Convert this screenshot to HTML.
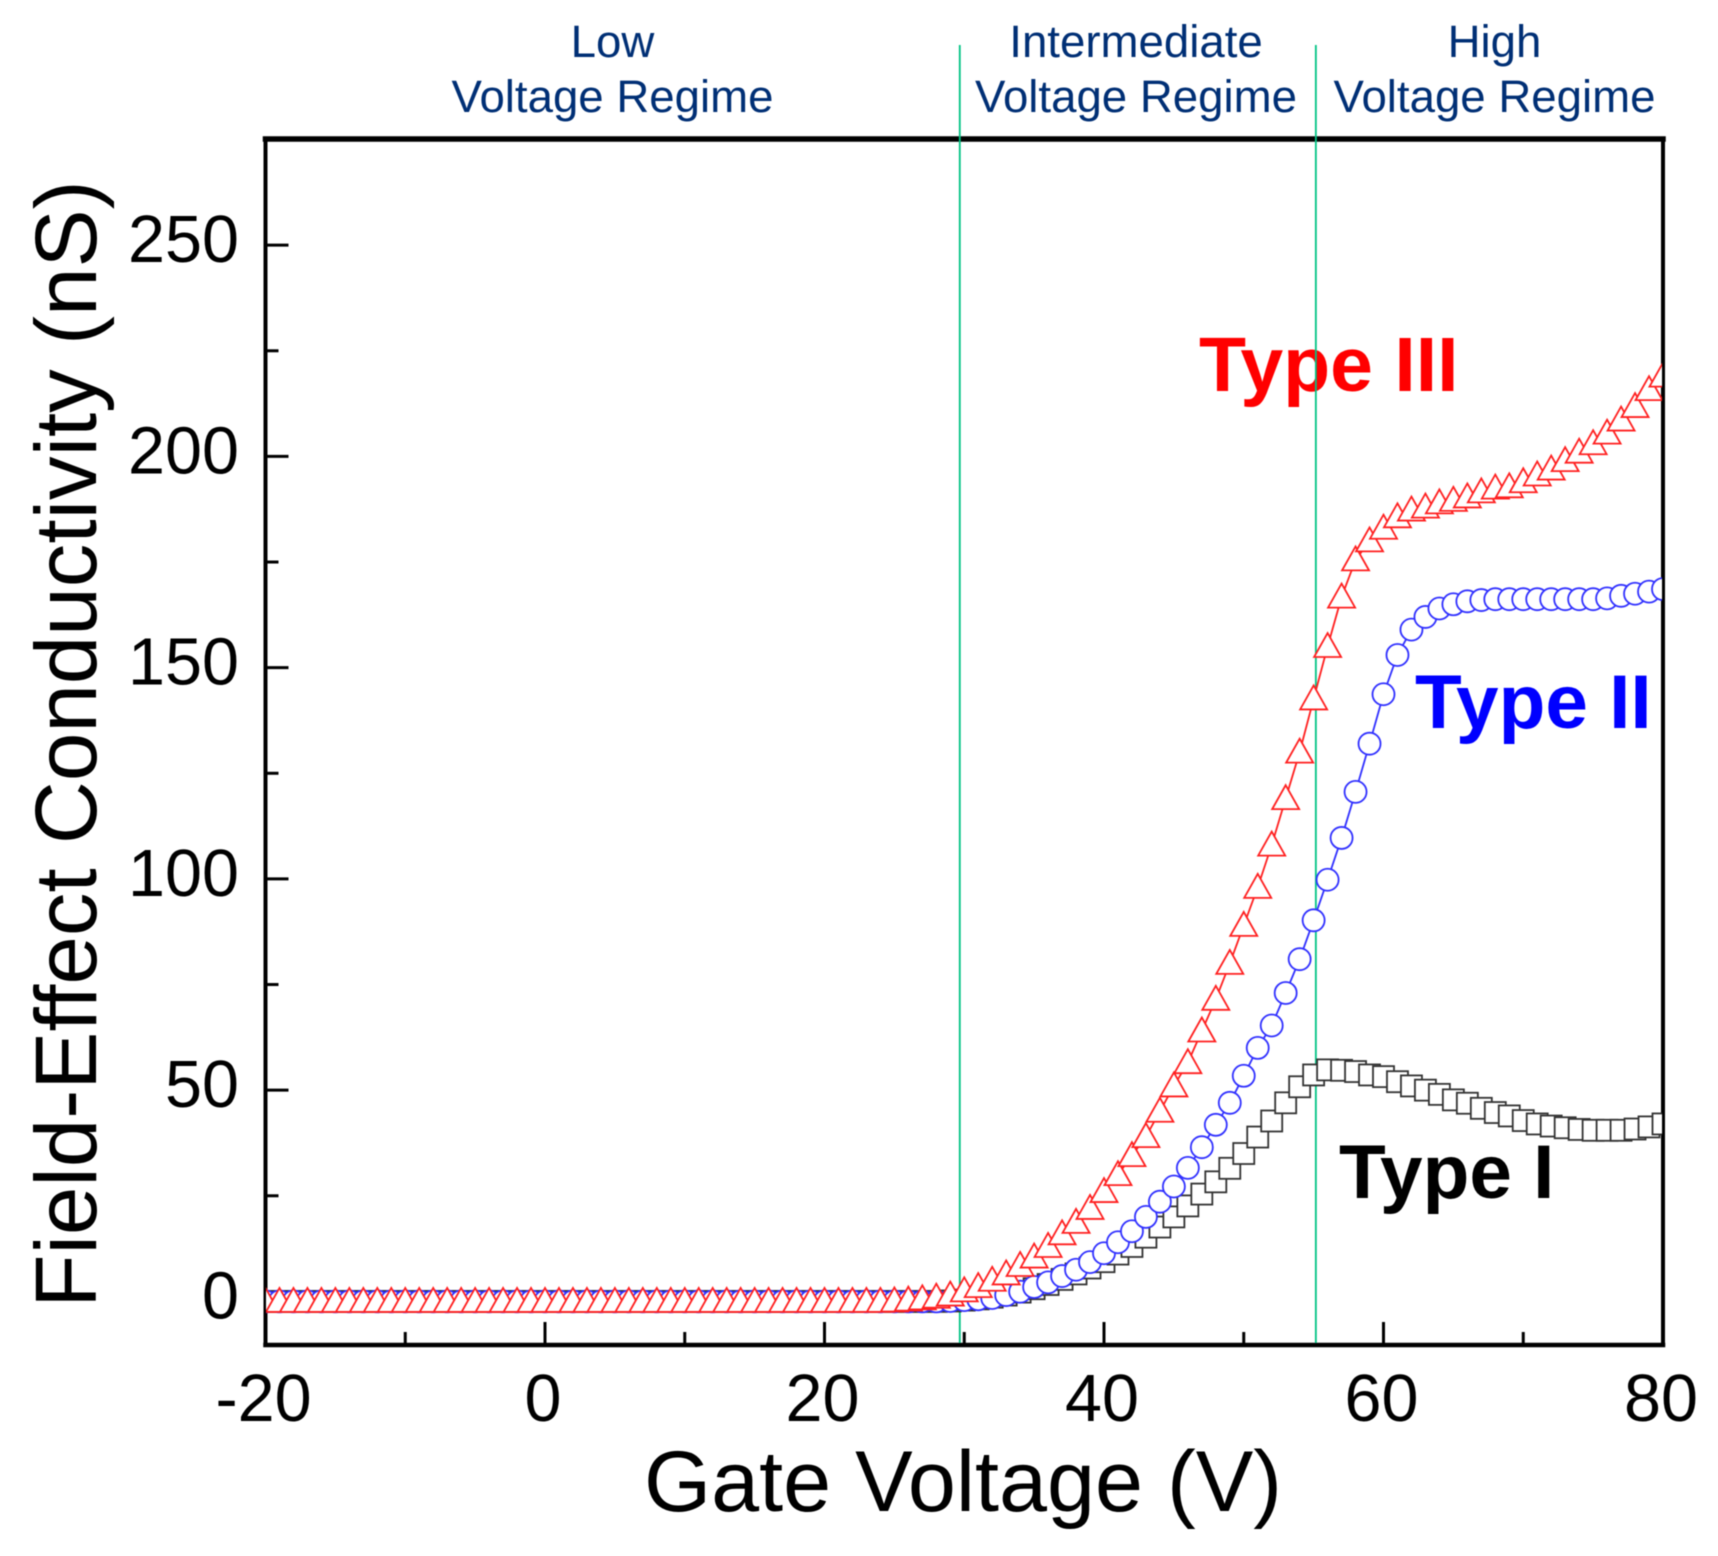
<!DOCTYPE html>
<html lang="en">
<head>
<meta charset="utf-8">
<title>Field-Effect Conductivity vs Gate Voltage</title>
<style>
html,body{margin:0;padding:0;background:#fff;width:1718px;height:1556px;overflow:hidden}
svg{display:block;filter:blur(0.5px)}
text{font-family:"Liberation Sans",Arial,sans-serif}
</style>
</head>
<body>
<svg id="chart" xmlns="http://www.w3.org/2000/svg" width="1718" height="1556" viewBox="0 0 1718 1556">
  <defs><clipPath id="plot-clip"><rect x="266" y="140" width="1396" height="1204"/></clipPath></defs>
  <g id="regime-labels" fill="#002f75" font-size="45.6" text-anchor="middle">
    <text x="612.5" y="57">Low</text>
    <text x="612.5" y="112">Voltage Regime</text>
    <text x="1136" y="57">Intermediate</text>
    <text x="1136" y="112">Voltage Regime</text>
    <text x="1494.5" y="57">High</text>
    <text x="1494.5" y="112">Voltage Regime</text>
  </g>
  <g id="axes"></g>
  <text x="963" y="1511" font-size="86.3" text-anchor="middle" fill="#000">Gate Voltage (V)</text>
  <text transform="translate(96 744) rotate(-90)" font-size="87.2" text-anchor="middle" fill="#000">Field-Effect Conductivity (nS)</text>
  <text x="1199" y="391" font-size="77" font-weight="bold" fill="#ff0000">Type III</text>
  <text x="1415" y="728" font-size="76.5" font-weight="bold" fill="#0000ff">Type II</text>
  <text x="1339" y="1198" font-size="76.5" font-weight="bold" fill="#000">Type I</text>
  <g id="dividers"></g>
  <g id="series" clip-path="url(#plot-clip)"></g>
</svg>
<script>
const xStart = -20;
const xTicks = [-20, 0, 20, 40, 60, 80];
const xMinorTicks = [-10, 10, 30, 50, 70];
const yTicks = [0, 50, 100, 150, 200, 250];
const yMinorTicks = [25, 75, 125, 175, 225];
const regimeBoundaries = [29.68, 55.16];

const typeI = [
0,0,0,0,0,0,0,0,0,0,
0,0,0,0,0,0,0,0,0,0,
0,0,0,0,0,0,0,0,0,0,
0,0,0,0,0,0,0,0,0,0,
0,0,0,0,0,0,0,0,0,0.1,
0.3,0.6,1,1.5,2.2,3,4,5.2,6.5,7.9,
9.4,11.2,13,15.2,17.6,20,22.6,25.4,28.3,31.5,
35,38.9,42.7,47,50.8,53.6,54.8,54.7,54.4,53.6,
53.2,52,51,50,49,47.7,46.9,45.7,44.7,43.9,
42.8,42,41.5,41.1,40.7,40.5,40.5,40.5,40.8,41.3,
42
];
const typeII = [
0,0,0,0,0,0,0,0,0,0,
0,0,0,0,0,0,0,0,0,0,
0,0,0,0,0,0,0,0,0,0,
0,0,0,0,0,0,0,0,0,0,
0,0,0,0,0,0,0,0,0,0.1,
0.3,0.5,0.8,1.5,2.3,3.4,4.5,6,7.5,9.3,
11.4,14,16.6,20,23.6,27.2,31.6,36.5,41.8,47,
53.4,60,65.3,73,81,90.2,99.8,109.7,120.6,132,
143.7,153,159,162,164,165,165.7,166,166.2,166.2,
166.2,166.2,166.2,166.2,166.2,166.2,166.4,167,167.5,168,
168.6
];
const typeIII = [
0,0,0,0,0,0,0,0,0,0,
0,0,0,0,0,0,0,0,0,0,
0,0,0,0,0,0,0,0,0,0,
0,0,0,0,0,0,0,0,0,0,
0,0,0,0,0,0.1,0.3,0.6,1,1.5,
2.5,3.5,5,6.5,8.5,10.5,13,16,18.7,22,
26,30,34.5,39,45,51,56.5,64,71.5,80,
89,98,108,119,130,142.6,155,166.7,175.5,180,
183,185.7,187.3,188,189,189.6,190.4,191.6,192.5,192.8,
194,195.6,197,199,201,203,205.5,208.6,211.8,215.8,
219
];

const svgNS = 'http://www.w3.org/2000/svg';
const PLOT = { left: 265.5, right: 1663, top: 139, bottom: 1345 };
function xScale(v) { return PLOT.left + (v - (-20)) * (PLOT.right - PLOT.left) / 100; }
function yScale(v) { return 1301.4 - v * 4.225; }
function make(tag, attrs, parent) {
  const el = document.createElementNS(svgNS, tag);
  for (const k in attrs) el.setAttribute(k, attrs[k]);
  parent.appendChild(el);
  return el;
}
const axes = document.getElementById('axes');
const frameParts = [
  [PLOT.left, PLOT.top, PLOT.right, PLOT.top, 5.5, 'top-axis-line'],
  [PLOT.left, PLOT.bottom, PLOT.right, PLOT.bottom, 4.5, 'x-axis-line'],
  [PLOT.left, PLOT.top, PLOT.left, PLOT.bottom, 4, 'y-axis-line'],
  [PLOT.right, PLOT.top, PLOT.right, PLOT.bottom, 4, 'right-axis-line']
];
frameParts.forEach(function (p) {
  const l = make('line', { x1: p[0], y1: p[1], x2: p[2], y2: p[3], stroke: '#000', 'stroke-width': p[4], 'stroke-linecap': 'square' }, axes);
  
  
});
xTicks.forEach(function (v) {
  const x = xScale(v);
  const t = make('line', { x1: x, y1: PLOT.bottom, x2: x, y2: PLOT.bottom - 23, stroke: '#000', 'stroke-width': 3 }, axes);
  
  
  const lb = make('text', { x: x - 2, y: 1421, 'font-size': 66.5, 'text-anchor': 'middle', fill: '#000' }, axes);
  lb.textContent = String(v);
  
  
});
xMinorTicks.forEach(function (v) {
  const x = xScale(v);
  const t = make('line', { x1: x, y1: PLOT.bottom, x2: x, y2: PLOT.bottom - 13, stroke: '#000', 'stroke-width': 3 }, axes);
  
  
});
yTicks.forEach(function (v) {
  const y = yScale(v);
  const t = make('line', { x1: PLOT.left, y1: y, x2: PLOT.left + 23, y2: y, stroke: '#000', 'stroke-width': 3 }, axes);
  
  
  const lb = make('text', { x: 239, y: y + 17, 'font-size': 66.5, 'text-anchor': 'end', fill: '#000' }, axes);
  lb.textContent = String(v);
  
  
});
yMinorTicks.forEach(function (v) {
  const y = yScale(v);
  const t = make('line', { x1: PLOT.left, y1: y, x2: PLOT.left + 13, y2: y, stroke: '#000', 'stroke-width': 3 }, axes);
  
  
});
const dividers = document.getElementById('dividers');
regimeBoundaries.forEach(function (v) {
  const x = xScale(v);
  const l = make('line', { x1: x, y1: 45, x2: x, y2: PLOT.bottom - 2, stroke: '#00c383', 'stroke-width': 1.8 }, dividers);
  
  
});

const seriesRoot = document.getElementById('series');
function drawSeries(values, color, name, drawMarker) {
  const g = make('g', {}, seriesRoot);
  
  
  const pts = values.map(function (v, i) { return xScale(xStart + i).toFixed(2) + ',' + yScale(v).toFixed(2); });
  const line = make('polyline', { points: pts.join(' '), fill: 'none', stroke: color, 'stroke-width': 1.8 }, g);
  
  
  values.forEach(function (v, i) {
    const m = drawMarker(xScale(xStart + i), yScale(v), g, color);
    
    
  });
}
function squareMarker(x, y, g, color) {
  return make('rect', { x: x - 10.5, y: y - 10.5, width: 21, height: 21, fill: '#fff', stroke: color, 'stroke-width': 1.8 }, g);
}
function circleMarker(x, y, g, color) {
  return make('circle', { cx: x, cy: y, r: 11, fill: '#fff', stroke: color, 'stroke-width': 1.8 }, g);
}
function triangleMarker(x, y, g, color) {
  const p = (x).toFixed(2) + ',' + (y - 13.5).toFixed(2) + ' ' + (x + 13.5).toFixed(2) + ',' + (y + 10.5).toFixed(2) + ' ' + (x - 13.5).toFixed(2) + ',' + (y + 10.5).toFixed(2);
  return make('polygon', { points: p, fill: '#fff', stroke: color, 'stroke-width': 1.8 }, g);
}
drawSeries(typeI, '#333333', 'type-i-series', squareMarker);
drawSeries(typeII, '#3030ff', 'type-ii-series', circleMarker);
drawSeries(typeIII, '#ff2020', 'type-iii-series', triangleMarker);
</script>
</body>
</html>
